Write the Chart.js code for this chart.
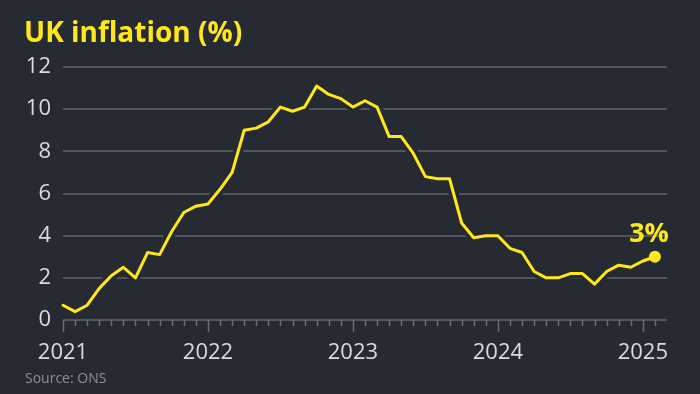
<!DOCTYPE html>
<html>
<head>
<meta charset="utf-8">
<script src="https://cdn.jsdelivr.net/npm/chart.js@4.4.1/dist/chart.umd.min.js"></script>
<style>
  html, body { margin: 0; padding: 0; background: #262a33; }
  #wrap { position: relative; width: 700px; height: 394px; overflow: hidden; background: #262a33; }
  #c { position: absolute; left: 0; top: 0; }
  .title { position: absolute; left: 24px; top: 17px; font-family: 'Open Sans', sans-serif; font-weight: 700;
           font-size: 28px; line-height: 28px; color: #ffe71a; white-space: nowrap; }
  .source { position: absolute; left: 25px; top: 371px; font-family: 'Open Sans', sans-serif; font-weight: 400;
            font-size: 14px; line-height: 14px; color: #8b9099; white-space: nowrap; }
</style>
</head>
<body>
<div id="wrap">
  <canvas id="c" width="700" height="394"></canvas>
  <div class="title">UK inflation (%)</div>
  <div class="source">Source: ONS</div>
</div>
<script>
// Year tick labels (one every 12 months, starting Jan 2021)
const yearLabels = ['2021', '2022', '2023', '2024', '2025'];
// Monthly CPI inflation (%), Jan 2021 onwards
const inflation2021 = [0.7, 0.4, 0.7, 1.5, 2.1, 2.5, 2.0, 3.2, 3.1, 4.2, 5.1, 5.4];
const inflation2022 = [5.5, 6.2, 7.0, 9.0, 9.1, 9.4, 10.1, 9.9, 10.1, 11.1, 10.7, 10.5];
const inflation2023 = [10.1, 10.4, 10.1, 8.7, 8.7, 7.9, 6.8, 6.7, 6.7, 4.6, 3.9, 4.0];
const inflation2024 = [4.0, 3.4, 3.2, 2.3, 2.0, 2.0, 2.2, 2.2, 1.7, 2.3, 2.6, 2.5];
const inflation2025 = [2.8, 3.0];
const yTicks = [0, 2, 4, 6, 8, 10, 12];
const endLabel = '3%';

const values = [].concat(inflation2021, inflation2022, inflation2023, inflation2024, inflation2025);
const points = values.map((v, i) => ({ x: i, y: v }));
const lastIndex = points.length - 1;

const BG = '#262a33';
const YELLOW = '#ffe71a';
const GRID = '#50545c';
const TICKCOL = '#6a6e76';
const LABEL = '#d9dce1';

const monthTicks = {
  id: 'monthTicks',
  afterDraw(chart) {
    const xs = chart.scales.x, ys = chart.scales.y;
    const ctx = chart.ctx;
    const y0 = ys.getPixelForValue(0);
    ctx.save();
    ctx.strokeStyle = TICKCOL;
    ctx.lineWidth = 1.5;
    for (let i = 0; i <= lastIndex; i++) {
      const x = Math.round(xs.getPixelForValue(i)) + 0.5;
      const len = (i % 12 === 0) ? 12 : 6;
      ctx.beginPath();
      ctx.moveTo(x, y0);
      ctx.lineTo(x, y0 + len);
      ctx.stroke();
    }
    ctx.restore();
  }
};

const endLabelPlugin = {
  id: 'endLabel',
  afterDatasetsDraw(chart) {
    const meta = chart.getDatasetMeta(1);
    const pt = meta.data[lastIndex];
    if (!pt) return;
    const ctx = chart.ctx;
    ctx.save();
    ctx.fillStyle = YELLOW;
    ctx.font = "700 27px 'Open Sans', sans-serif";
    ctx.textAlign = 'right';
    ctx.textBaseline = 'alphabetic';
    ctx.fillText(endLabel, pt.x + 14, pt.y - 15);
    ctx.restore();
  }
};

new Chart(document.getElementById('c'), {
  type: 'line',
  data: {
    datasets: [
      {
        // dark halo under the line (cuts the gridlines like the reference)
        data: points,
        borderColor: BG,
        borderWidth: 10,
        pointRadius: 0,
        tension: 0,
        borderJoinStyle: 'round',
        borderCapStyle: 'round',
        order: 2,
        clip: false
      },
      {
        data: points,
        borderColor: YELLOW,
        backgroundColor: YELLOW,
        borderWidth: 3,
        tension: 0,
        borderJoinStyle: 'round',
        borderCapStyle: 'round',
        pointRadius: ctx => ctx.dataIndex === lastIndex ? 6 : 0,
        pointHoverRadius: 0,
        pointBorderWidth: 0,
        pointBackgroundColor: YELLOW,
        order: 1,
        clip: false
      }
    ]
  },
  options: {
    responsive: false,
    animation: false,
    devicePixelRatio: 1,
    layout: { padding: { left: 0, right: 33, top: 67, bottom: 0 } },
    plugins: { legend: { display: false }, tooltip: { enabled: false }, title: { display: false } },
    events: [],
    scales: {
      x: {
        type: 'linear',
        min: 0,
        max: 50,
        grid: { display: false, drawTicks: false },
        border: { display: false },
        afterBuildTicks: scale => { scale.ticks = yearLabels.map((y, i) => ({ value: i * 12 })); },
        afterFit: scale => { scale.height = 74; },
        ticks: {
          autoSkip: false,
          maxRotation: 0,
          padding: 20,
          color: LABEL,
          font: { family: "'Open Sans', sans-serif", size: 22, weight: 400 },
          callback: (v) => yearLabels[Math.round(v / 12)]
        }
      },
      y: {
        min: 0,
        max: 12,
        afterBuildTicks: scale => { scale.ticks = yTicks.map(v => ({ value: v })); },
        afterFit: scale => { scale.width = 63; },
        grid: { color: GRID, lineWidth: 2, drawTicks: false },
        border: { display: false },
        ticks: {
          padding: 12,
          color: LABEL,
          font: { family: "'Open Sans', sans-serif", size: 22, weight: 400 }
        }
      }
    }
  },
  plugins: [monthTicks, endLabelPlugin]
});
</script>
</body>
</html>
